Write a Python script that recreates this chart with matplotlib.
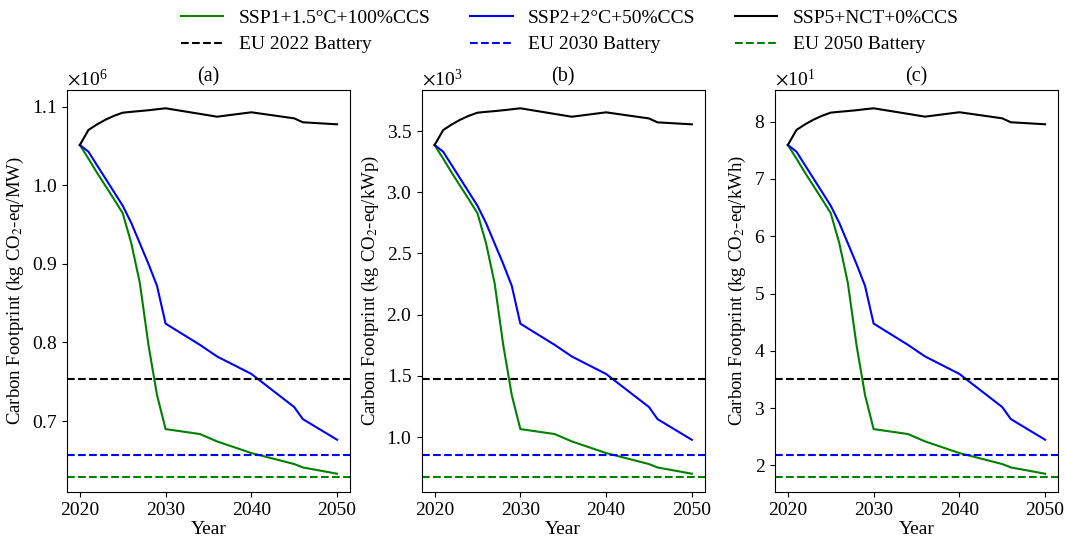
import matplotlib
matplotlib.use("Agg")
import matplotlib.pyplot as plt

plt.rcParams['font.family'] = ['Liberation Serif', 'DejaVu Serif']
plt.rcParams['mathtext.fontset'] = 'stix'
plt.rcParams['font.size'] = 14

years = [2020, 2021, 2022, 2023, 2024, 2025, 2026, 2027, 2028, 2029, 2030,
         2034, 2036, 2040, 2045, 2046, 2050]

# (a) kg CO2-eq/MW, in units of 1e6
mw_ssp1 = [1.0513, 1.034, 1.016, 0.999, 0.982, 0.9645, 0.9263, 0.8755, 0.797, 0.733, 0.6898,
           0.6835, 0.6741, 0.6593, 0.6453, 0.6410, 0.6330]
mw_ssp2 = [1.0513, 1.0428, 1.0256, 1.0084, 0.9912, 0.974, 0.952, 0.926, 0.900, 0.872, 0.824,
           0.797, 0.7822, 0.7600, 0.7178, 0.7025, 0.6762]
mw_ssp5 = [1.0513, 1.0704, 1.0775, 1.0835, 1.0885, 1.0924, 1.0935, 1.0945, 1.0955, 1.0968, 1.0980,
           1.0909, 1.0873, 1.0929, 1.0852, 1.0802, 1.0776]
mw_eu = [0.7538, 0.6563, 0.6293]

# (b) kg CO2-eq/kWp, in units of 1e3
kwp_ssp1 = [3.386, 3.275, 3.159, 3.050, 2.941, 2.828, 2.583, 2.257, 1.753, 1.342, 1.065,
            1.024, 0.964, 0.869, 0.779, 0.751, 0.700]
kwp_ssp2 = [3.386, 3.331, 3.221, 3.110, 3.000, 2.889, 2.748, 2.581, 2.415, 2.235, 1.926,
            1.753, 1.658, 1.515, 1.245, 1.146, 0.977]
kwp_ssp5 = [3.386, 3.508, 3.554, 3.593, 3.625, 3.650, 3.657, 3.663, 3.670, 3.678, 3.686,
            3.640, 3.617, 3.653, 3.603, 3.571, 3.555]
kwp_eu = [1.476, 0.850, 0.676]

# (c) kg CO2-eq/kWh, in units of 1e1
kwh_ssp1 = [7.594, 7.356, 7.110, 6.876, 6.643, 6.403, 5.879, 5.182, 4.105, 3.227, 2.634,
            2.548, 2.419, 2.216, 2.024, 1.965, 1.855]
kwh_ssp2 = [7.594, 7.477, 7.241, 7.005, 6.769, 6.533, 6.232, 5.875, 5.518, 5.134, 4.476,
            4.105, 3.902, 3.597, 3.019, 2.809, 2.448]
kwh_ssp5 = [7.594, 7.856, 7.953, 8.036, 8.104, 8.158, 8.173, 8.186, 8.200, 8.218, 8.234,
            8.137, 8.088, 8.165, 8.059, 7.990, 7.955]
kwh_eu = [3.512, 2.175, 1.804]

scenario_labels = ['SSP1+1.5°C+100%CCS', 'SSP2+2°C+50%CCS', 'SSP5+NCT+0%CCS']
eu_labels = ['EU 2022 Battery', 'EU 2030 Battery', 'EU 2050 Battery']
scenario_colors = ['green', 'blue', 'black']
eu_colors = ['black', 'blue', 'green']

panels = [
    ('(a)', 'MW', 1e6, [mw_ssp1, mw_ssp2, mw_ssp5], mw_eu),
    ('(b)', 'kWp', 1e3, [kwp_ssp1, kwp_ssp2, kwp_ssp5], kwp_eu),
    ('(c)', 'kWh', 1e1, [kwh_ssp1, kwh_ssp2, kwh_ssp5], kwh_eu),
]

fig = plt.figure(figsize=(10.65, 5.4), dpi=100)
lefts = [0.0629, 0.396, 0.7277]

for left, (title, unit, scale, series, eu) in zip(lefts, panels):
    ax = fig.add_axes([left, 0.0889, 0.2657, 0.7444])
    lines = []
    for vals, lab, col in zip(series, scenario_labels, scenario_colors):
        l, = ax.plot(years, [v * scale for v in vals], color=col, lw=1.5, label=lab)
        lines.append(l)
    dashes = []
    for v, lab, col in zip(eu, eu_labels, eu_colors):
        d = ax.axhline(v * scale, color=col, ls='--', lw=1.5, label=lab)
        dashes.append(d)
    ax.ticklabel_format(axis='y', style='sci', scilimits=(0, 0), useMathText=True)
    ax.set_title(title, fontsize=14.5)
    ax.set_xlabel('Year', labelpad=2)
    ax.set_ylabel('Carbon Footprint (kg CO$_2$-eq/%s)' % unit, fontsize=13.5)
    ax.set_xticks([2020, 2030, 2040, 2050])

# legend fills column by column
handles = []
for l, d in zip(lines, dashes):
    handles += [l, d]
fig.legend(handles=handles, labels=[h.get_label() for h in handles], ncol=3,
           loc='upper center', bbox_to_anchor=(0.535, 1.015), frameon=False,
           handlelength=2.2, columnspacing=2.0, labelspacing=0.45, fontsize=14)

fig.savefig('out.png', dpi=100)
